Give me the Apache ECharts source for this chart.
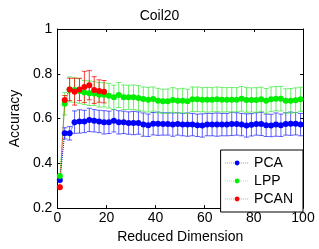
<!DOCTYPE html>
<html>
<head>
<meta charset="utf-8">
<script src="https://cdn.jsdelivr.net/npm/echarts@6/dist/echarts.min.js"></script>
<style>
  html, body { margin: 0; padding: 0; background: #fff; }
  #chart { width: 319px; height: 249px; }
</style>
</head>
<body>
<div id="chart"></div>
<script>
// reduced dimensions 1,3,...,99
var dims = [1, 3, 5, 7, 9, 11, 13, 15, 17, 19, 21, 23, 25, 27, 29, 31, 33, 35, 37, 39,
    41, 43, 45, 47, 49, 51, 53, 55, 57, 59, 61, 63, 65, 67, 69, 71, 73, 75, 77, 79,
    81, 83, 85, 87, 89, 91, 93, 95, 97, 99];
var pcaMean = [0.326, 0.534, 0.534, 0.584, 0.587, 0.587, 0.594, 0.590, 0.587, 0.583,
    0.583, 0.590, 0.583, 0.583, 0.580, 0.580, 0.580, 0.573, 0.570, 0.577,
    0.577, 0.576, 0.576, 0.573, 0.576, 0.573, 0.573, 0.573, 0.570, 0.569,
    0.573, 0.573, 0.573, 0.573, 0.573, 0.576, 0.576, 0.573, 0.569, 0.572,
    0.576, 0.576, 0.570, 0.569, 0.573, 0.570, 0.576, 0.577, 0.577, 0.573];
var pcaStd = [0.005, 0.025, 0.03, 0.05, 0.052, 0.05, 0.052, 0.05, 0.05, 0.052,
    0.05, 0.05, 0.052, 0.05, 0.05, 0.052, 0.05, 0.052, 0.05, 0.05,
    0.052, 0.05, 0.05, 0.052, 0.05, 0.05, 0.052, 0.05, 0.05, 0.052,
    0.05, 0.05, 0.052, 0.05, 0.05, 0.052, 0.05, 0.05, 0.052, 0.05,
    0.05, 0.052, 0.05, 0.05, 0.052, 0.05, 0.05, 0.052, 0.05, 0.05];
var lppMean = [0.343, 0.666, 0.730, 0.727, 0.723, 0.716, 0.713, 0.712, 0.706, 0.706,
    0.702, 0.695, 0.705, 0.695, 0.695, 0.695, 0.692, 0.687, 0.684, 0.687,
    0.680, 0.677, 0.677, 0.683, 0.679, 0.680, 0.677, 0.686, 0.686, 0.684,
    0.684, 0.684, 0.686, 0.684, 0.684, 0.684, 0.684, 0.688, 0.683, 0.683,
    0.683, 0.686, 0.679, 0.686, 0.689, 0.689, 0.679, 0.679, 0.682, 0.686];
var lppStd = [0.005, 0.05, 0.056, 0.055, 0.055, 0.054, 0.055, 0.054, 0.055, 0.054,
    0.055, 0.054, 0.056, 0.055, 0.054, 0.055, 0.055, 0.054, 0.055, 0.054,
    0.055, 0.054, 0.055, 0.055, 0.054, 0.055, 0.054, 0.055, 0.055, 0.054,
    0.055, 0.054, 0.055, 0.055, 0.054, 0.055, 0.054, 0.055, 0.055, 0.054,
    0.055, 0.054, 0.055, 0.055, 0.054, 0.055, 0.054, 0.055, 0.055, 0.054];
var pcanDims = [1, 3, 5, 7, 9, 11, 13, 15, 17, 19];
var pcanMean = [0.293, 0.683, 0.730, 0.720, 0.730, 0.741, 0.749, 0.727, 0.723, 0.720];
var pcanStd = [0.005, 0.02, 0.05, 0.06, 0.05, 0.07, 0.065, 0.06, 0.05, 0.05];

var names = ['PCA', 'LPP', 'PCAN'];
var colors = ['#0000ff', '#00ee00', '#ff0000'];
var barColors = ['rgba(40,40,255,0.75)', 'rgba(60,235,60,0.75)', 'rgba(255,0,0,0.75)'];

function pairs(xs, ys) {
    return xs.map(function (x, i) { return [x, ys[i]]; });
}
function bars(xs, ys, es) {
    return xs.map(function (x, i) { return [x, ys[i] - es[i], ys[i] + es[i]]; });
}

function errorSeries(data, color) {
    return {
        type: 'custom',
        silent: true,
        data: data,
        encode: { x: 0, y: [1, 2] },
        renderItem: function (params, api) {
            var lo = api.coord([api.value(0), api.value(1)]);
            var hi = api.coord([api.value(0), api.value(2)]);
            var w = 2.5;
            var st = { stroke: color, lineWidth: 1 };
            return {
                type: 'group',
                children: [
                    { type: 'line', shape: { x1: lo[0], y1: lo[1], x2: hi[0], y2: hi[1] }, style: st },
                    { type: 'line', shape: { x1: lo[0] - w, y1: lo[1], x2: lo[0] + w, y2: lo[1] }, style: st },
                    { type: 'line', shape: { x1: hi[0] - w, y1: hi[1], x2: hi[0] + w, y2: hi[1] }, style: st }
                ]
            };
        }
    };
}

function meanSeries(name, data, color) {
    return {
        name: name,
        type: 'line',
        data: data,
        symbol: 'circle',
        symbolSize: 6,
        showSymbol: true,
        itemStyle: { color: color },
        lineStyle: { color: color, width: 1, type: 'dotted' }
    };
}

var font = 'Liberation Sans, Arial, sans-serif';
var chart = echarts.init(document.getElementById('chart'), null, { renderer: 'canvas' });

var series = [
    errorSeries(bars(dims, pcaMean, pcaStd), barColors[0]),
    meanSeries(names[0], pairs(dims, pcaMean), colors[0]),
    errorSeries(bars(dims, lppMean, lppStd), barColors[1]),
    meanSeries(names[1], pairs(dims, lppMean), colors[1]),
    errorSeries(bars(pcanDims, pcanMean, pcanStd), barColors[2]),
    meanSeries(names[2], pairs(pcanDims, pcanMean), colors[2])
];

var axisLine = { show: true, onZero: false, lineStyle: { color: '#000', width: 1 } };
var tick = { show: true, inside: true, length: 3, lineStyle: { color: '#000' } };

chart.setOption({
    animation: false,
    backgroundColor: '#fff',
    title: {
        text: 'Coil20',
        left: 'center',
        top: 4,
        textStyle: { fontFamily: font, fontSize: 14, fontWeight: 'normal', color: '#000' }
    },
    legend: {
        data: names,
        orient: 'vertical',
        right: 16,
        bottom: 37,
        itemWidth: 24,
        itemHeight: 6,
        itemGap: 2,
        padding: [5, 10, 5, 4],
        backgroundColor: '#fff',
        borderColor: '#000',
        borderWidth: 1,
        borderRadius: 0,
        lineStyle: { width: 1, type: 'dotted', opacity: 0.45 },
        textStyle: { fontFamily: font, fontSize: 14, color: '#000', lineHeight: 16 }
    },
    grid: { left: 49, right: 16, top: 29, bottom: 34, containLabel: false },
    xAxis: [{
        type: 'value',
        min: 0, max: 100, interval: 20,
        name: 'Reduced Dimension',
        nameLocation: 'middle',
        nameGap: 20,
        nameTextStyle: { fontFamily: font, fontSize: 14, color: '#000' },
        axisLine: axisLine,
        axisTick: tick,
        splitLine: { show: false },
        axisLabel: { fontFamily: font, fontSize: 14, color: '#000', margin: 3 }
    }, {
        type: 'value',
        position: 'top',
        min: 0, max: 100, interval: 20,
        axisLine: axisLine,
        axisTick: tick,
        splitLine: { show: false },
        axisLabel: { show: false }
    }],
    yAxis: [{
        type: 'value',
        min: 0.2, max: 1, interval: 0.2,
        name: 'Accuracy',
        nameLocation: 'middle',
        nameGap: 30,
        nameTextStyle: { fontFamily: font, fontSize: 14, color: '#000' },
        axisLine: axisLine,
        axisTick: tick,
        splitLine: { show: false },
        axisLabel: {
            fontFamily: font, fontSize: 14, color: '#000', margin: 5,
            formatter: function (v) { return String(Math.round(v * 10) / 10); }
        }
    }, {
        type: 'value',
        position: 'right',
        min: 0.2, max: 1, interval: 0.2,
        axisLine: axisLine,
        axisTick: tick,
        splitLine: { show: false },
        axisLabel: { show: false }
    }],
    series: series
});
</script>
</body>
</html>
